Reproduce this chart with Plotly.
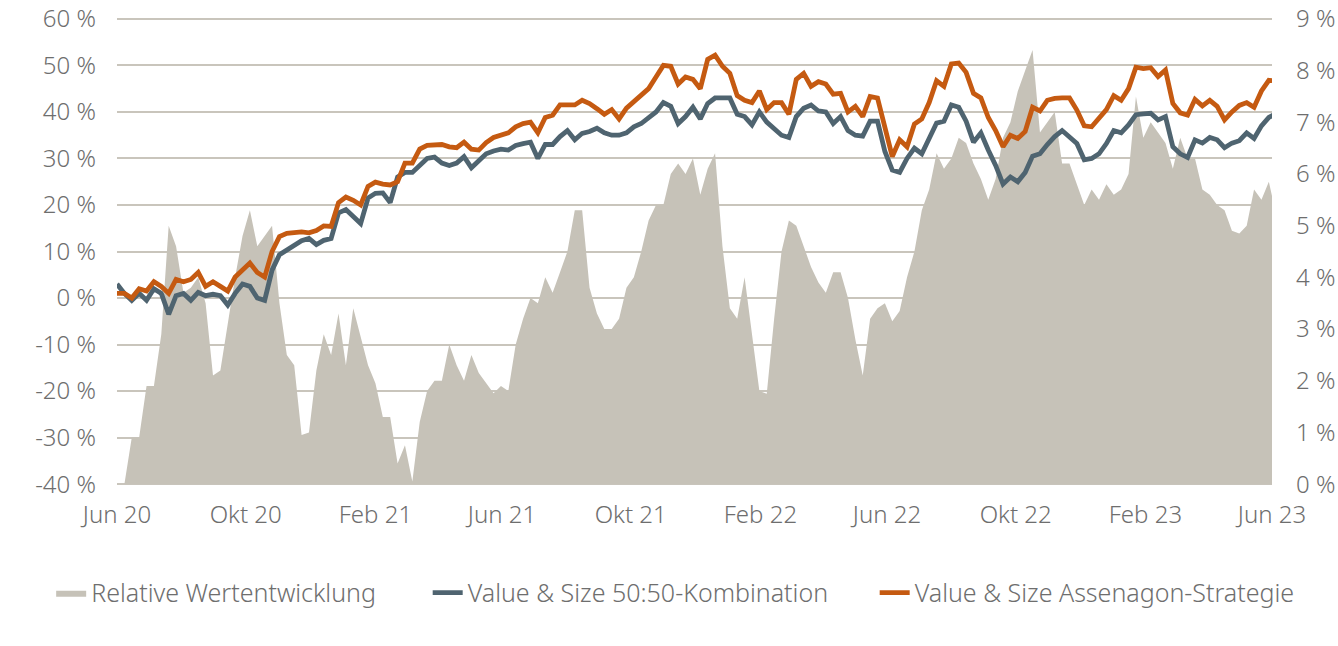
import pandas as pd
import plotly.graph_objects as go

# weekly observations, Jun 2020 - Jun 2023
dates = pd.date_range("2020-06-01", periods=158, freq="7D")

# Value & Size 50:50-Kombination (left axis, %)
kombi = [
    3.0, 1.0, -0.5, 1.0, -0.5, 2.0, 1.0, -3.5, 0.5, 1.0,
    -0.5, 1.2, 0.5, 0.8, 0.5, -1.5, 1.0, 3.0, 2.5, 0.0,
    -0.5, 6.0, 9.3, 10.3, 11.2, 12.3, 12.8, 11.5, 12.4, 12.8,
    18.3, 19.0, 17.5, 16.0, 21.5, 22.5, 22.6, 20.5, 26.0, 27.0,
    27.0, 28.5, 30.0, 30.3, 29.0, 28.5, 29.0, 30.4, 28.0, 29.5,
    31.0, 31.6, 32.0, 31.8, 32.8, 33.2, 33.5, 30.0, 33.0, 33.0,
    34.7, 36.0, 34.0, 35.4, 35.8, 36.5, 35.5, 35.0, 35.0, 35.5,
    36.8, 37.5, 38.8, 40.0, 42.0, 41.2, 37.5, 39.0, 41.0, 38.5,
    41.8, 43.0, 43.0, 43.0, 39.5, 39.0, 37.2, 40.0, 37.8, 36.5,
    35.0, 34.5, 39.0, 40.8, 41.5, 40.2, 40.0, 37.5, 39.0, 36.0,
    35.0, 34.8, 38.0, 38.0, 31.5, 27.5, 27.0, 30.0, 32.2, 31.0,
    34.3, 37.6, 38.0, 41.5, 41.0, 38.0, 33.5, 35.5, 31.8, 28.5,
    24.5, 26.0, 25.0, 27.0, 30.5, 31.0, 33.0, 34.7, 36.0, 34.7,
    33.2, 29.7, 30.0, 31.0, 33.2, 36.0, 35.5, 37.2, 39.4, 39.6,
    39.7, 38.3, 39.0, 32.5, 31.0, 30.2, 34.0, 33.3, 34.5, 34.0,
    32.3, 33.3, 33.8, 35.5, 34.3, 37.0, 38.8, 39.7,
]

# Value & Size Assenagon-Strategie (left axis, %)
assenagon = [
    1.0, 1.0, 0.0, 2.0, 1.5, 3.5, 2.5, 1.0, 4.0, 3.5,
    4.0, 5.5, 2.5, 3.5, 2.5, 1.5, 4.5, 6.0, 7.5, 5.5,
    4.5, 10.0, 13.2, 13.9, 14.0, 14.2, 14.0, 14.5, 15.5, 15.4,
    20.5, 21.7, 21.0, 20.0, 24.0, 24.9, 24.5, 24.3, 25.0, 29.0,
    29.0, 32.0, 32.8, 33.0, 33.0, 32.5, 32.3, 33.5, 32.0, 31.8,
    33.4, 34.5, 35.0, 35.5, 36.8, 37.5, 37.8, 35.5, 38.8, 39.3,
    41.5, 41.5, 41.5, 42.5, 41.8, 40.7, 39.5, 40.5, 38.5, 40.8,
    42.2, 43.8, 45.0, 47.5, 50.0, 49.8, 46.0, 47.5, 47.0, 45.0,
    51.3, 52.2, 49.8, 48.3, 43.5, 42.5, 42.0, 44.5, 40.5, 42.0,
    42.0, 39.5, 47.0, 48.3, 45.5, 46.5, 46.0, 43.8, 44.0, 40.0,
    41.2, 39.0, 43.3, 43.0, 36.5, 30.4, 34.0, 32.5, 37.4, 38.5,
    42.0, 46.7, 45.5, 50.3, 50.5, 48.5, 44.0, 43.0, 38.8, 36.0,
    32.5, 35.0, 34.3, 35.8, 41.0, 40.2, 42.5, 42.9, 43.0, 43.0,
    40.4, 37.0, 36.8, 38.7, 40.5, 43.5, 42.5, 45.0, 49.6, 49.3,
    49.5, 47.6, 49.0, 41.8, 39.8, 39.3, 42.7, 41.3, 42.5, 41.2,
    38.3, 40.0, 41.4, 42.0, 41.0, 44.5, 46.8, 46.6,
]

# Relative Wertentwicklung (right axis, %)
relativ = [
    0.0, 0.0, 0.9, 0.9, 1.9, 1.9, 2.9, 5.0, 4.6, 3.7,
    3.8, 4.0, 3.5, 2.1, 2.2, 3.1, 4.0, 4.8, 5.3, 4.6,
    4.8, 5.0, 3.5, 2.5, 2.3, 0.95, 1.0, 2.2, 2.9, 2.5,
    3.3, 2.3, 3.4, 2.85, 2.3, 1.95, 1.3, 1.3, 0.4, 0.75,
    0.05, 1.2, 1.8, 2.0, 2.0, 2.7, 2.3, 2.0, 2.5, 2.15,
    1.95, 1.76, 1.9, 1.8, 2.7, 3.2, 3.6, 3.5, 4.0, 3.7,
    4.1, 4.5, 5.3, 5.3, 3.8, 3.3, 3.0, 3.0, 3.2, 3.8,
    4.0, 4.5, 5.1, 5.4, 5.4, 6.0, 6.2, 6.0, 6.3, 5.6,
    6.1, 6.4, 4.6, 3.4, 3.2, 4.0, 2.9, 1.8, 1.75, 3.2,
    4.5, 5.1, 5.0, 4.6, 4.2, 3.9, 3.7, 4.1, 4.1, 3.6,
    2.8, 2.1, 3.2, 3.4, 3.5, 3.15, 3.35, 4.0, 4.5, 5.3,
    5.7, 6.4, 6.1, 6.3, 6.7, 6.6, 6.2, 5.9, 5.5, 5.9,
    6.7, 7.0, 7.6, 8.0, 8.4, 6.8, 7.0, 7.2, 6.2, 6.2,
    5.8, 5.4, 5.7, 5.5, 5.8, 5.6, 5.7, 6.0, 7.5, 6.7,
    7.0, 6.8, 6.6, 6.1, 6.7, 6.3, 6.3, 5.7, 5.6, 5.4,
    5.3, 4.9, 4.85, 5.0, 5.7, 5.5, 5.85, 5.2,
]

x_ticks = ["2020-06-01", "2020-10-01", "2021-02-01", "2021-06-01", "2021-10-01",
           "2022-02-01", "2022-06-01", "2022-10-01", "2023-02-01", "2023-06-01"]
x_labels = ["Jun 20", "Okt 20", "Feb 21", "Jun 21", "Okt 21",
            "Feb 22", "Jun 22", "Okt 22", "Feb 23", "Jun 23"]
left_ticks = [-40, -30, -20, -10, 0, 10, 20, 30, 40, 50, 60]
right_ticks = [0, 1, 2, 3, 4, 5, 6, 7, 8, 9]

txt = "#6e6e6e"
font_name = "Noto Sans"
legend_font = dict(family=font_name, size=25, color=txt, weight=300)

fig = go.Figure()
fig.add_trace(go.Scatter(
    x=dates, y=relativ, name="Relative Wertentwicklung", yaxis="y",
    mode="lines", line=dict(width=0, color="#c6c2b8"),
    fill="tozeroy", fillcolor="#c6c2b8", legend="legend",
))
fig.add_trace(go.Scatter(
    x=dates, y=kombi, name="Value & Size 50:50-Kombination", yaxis="y2",
    mode="lines", line=dict(width=4.8, color="#4f6470"), legend="legend2",
))
fig.add_trace(go.Scatter(
    x=dates, y=assenagon, name="Value & Size Assenagon-Strategie", yaxis="y2",
    mode="lines", line=dict(width=4.8, color="#c55a11"), legend="legend3",
))

# ranges padded a little so the 60 % / -40 % gridlines are not dropped at the edges
fig.update_layout(
    width=1338, height=646,
    margin=dict(l=117, r=66, t=17.14, b=160.14, autoexpand=False),
    paper_bgcolor="white", plot_bgcolor="white",
    font=dict(family=font_name, size=24, color=txt, weight=300),
    showlegend=True,
    legend=dict(orientation="h", x=-0.057, xanchor="left", y=-0.228, yanchor="middle",
                font=legend_font, bgcolor="rgba(0,0,0,0)"),
    legend2=dict(orientation="h", x=0.269, xanchor="left", y=-0.228, yanchor="middle",
                 font=legend_font, bgcolor="rgba(0,0,0,0)"),
    legend3=dict(orientation="h", x=0.656, xanchor="left", y=-0.228, yanchor="middle",
                 font=legend_font, bgcolor="rgba(0,0,0,0)"),
    xaxis=dict(
        range=["2020-06-01", "2023-06-01"],
        tickvals=x_ticks, ticktext=x_labels,
        showgrid=False, zeroline=False, showline=False,
        ticks="", ticklabelstandoff=12, ticklabeloverflow="allow",
    ),
    yaxis=dict(
        side="right", range=[-0.036, 9.036],
        tickvals=right_ticks, ticktext=[f"{v} %" for v in right_ticks],
        showgrid=False, zeroline=False, showline=False,
        ticks="", ticklabelstandoff=23, ticklabeloverflow="allow",
    ),
    yaxis2=dict(
        side="left", overlaying="y", range=[-40.4, 60.4],
        tickvals=left_ticks, ticktext=[f"{v} %" for v in left_ticks],
        showgrid=True, gridcolor="#c9c5bc", gridwidth=1.7,
        zeroline=False, showline=False,
        ticks="", ticklabelstandoff=20, ticklabeloverflow="allow",
    ),
)

# drop the default 8px page margin so the figure sits flush in the window
fig.write_html("out.html", config={"displayModeBar": False},
               post_script="document.body.style.margin = '0';")
